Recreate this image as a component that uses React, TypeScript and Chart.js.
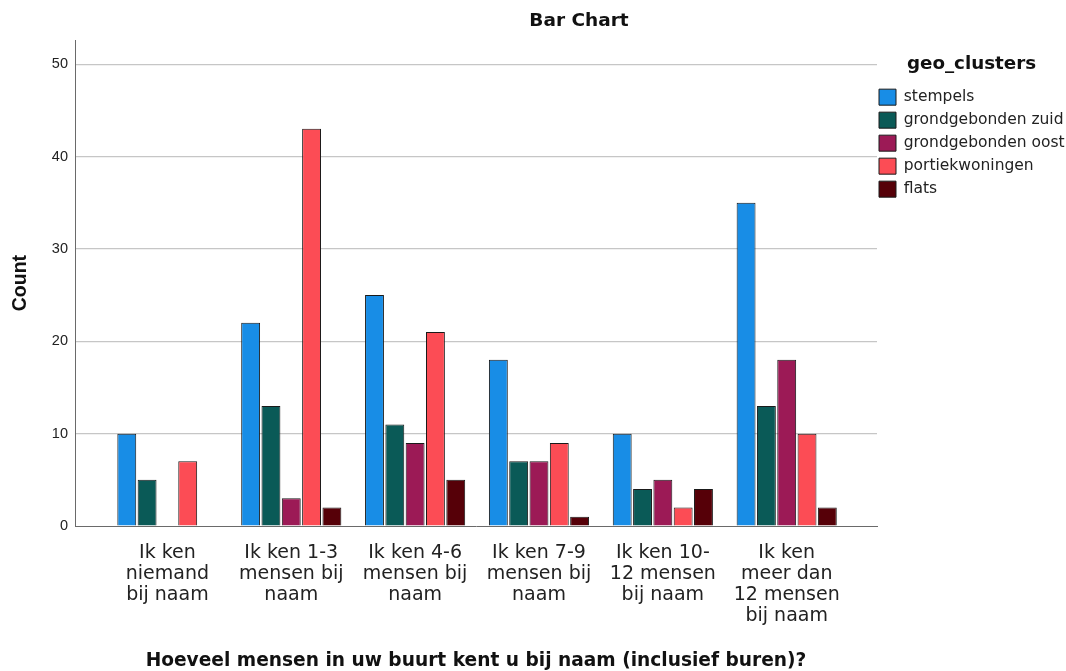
import React, { useEffect, useRef } from 'react';
import { Chart, registerables } from 'chart.js';

Chart.register(...registerables);

const categoryLabels: string[][] = [
  ['Ik ken', 'niemand', 'bij naam'],
  ['Ik ken 1-3', 'mensen bij', 'naam'],
  ['Ik ken 4-6', 'mensen bij', 'naam'],
  ['Ik ken 7-9', 'mensen bij', 'naam'],
  ['Ik ken 10-', '12 mensen', 'bij naam'],
  ['Ik ken', 'meer dan', '12 mensen', 'bij naam'],
];
const stempels = [10, 22, 25, 18, 10, 35];
const grondgebondenZuid = [5, 13, 11, 7, 4, 13];
const grondgebondenOost = [0, 3, 9, 7, 5, 18];
const portiekwoningen = [7, 43, 21, 9, 2, 10];
const flats = [0, 2, 5, 1, 4, 2];
const seriesNames = ['stempels', 'grondgebonden zuid', 'grondgebonden oost', 'portiekwoningen', 'flats'];
const seriesValues = [stempels, grondgebondenZuid, grondgebondenOost, portiekwoningen, flats];
const seriesColors = ['#188de6', '#0a5a57', '#9c1a56', '#fc4c55', '#560008'];
const yTicks = [0, 10, 20, 30, 40, 50];

const chartTitle = 'Bar Chart';
const xTitle = 'Hoeveel mensen in uw buurt kent u bij naam (inclusief buren)?';
const yTitle = 'Count';
const legendTitle = 'geo_clusters';

const nudgePlugin = {
  id: 'nudge',
  afterLayout(chart: any) {
    const t = chart.titleBlock;
    if (t) {
      t.left += 46;
      t.right += 46;
    }
    const l = chart.legend;
    if (l) {
      l.left -= 5;
      l.right = 1071;
      l.width = l.right - l.left;
    }
  },
};

export default function App() {
  const ref = useRef<HTMLCanvasElement | null>(null);

  useEffect(() => {
    if (!ref.current) return;
    const datasets = seriesNames.map((name, s) => ({
      label: name,
      data: seriesValues[s].map((v, i) => ({ x: i, y: v })),
      backgroundColor: seriesColors[s],
      borderColor: '#1a1a1a',
      borderWidth: 1,
      categoryPercentage: 0.82,
      barPercentage: 0.93,
    }));
    const chart = new Chart(ref.current, {
      type: 'bar',
      data: { datasets },
      plugins: [nudgePlugin],
      options: {
        animation: false,
        responsive: false,
        maintainAspectRatio: false,
        layout: { padding: 0 },
        plugins: {
          tooltip: { enabled: false },
          title: {
            display: true,
            text: chartTitle,
            color: '#111',
            font: { family: 'DejaVu Sans', size: 18.5, weight: 'bold', lineHeight: 1.2 },
            padding: { top: 10, bottom: 8 },
          },
          legend: {
            display: true,
            position: 'right',
            align: 'start',
            fullSize: false,
            maxWidth: 189,
            title: {
              display: true,
              text: legendTitle,
              position: 'center',
              color: '#111',
              font: { family: 'DejaVu Sans', size: 18.3, weight: 'bold', lineHeight: 1.2 },
              padding: { top: 15, bottom: 5 },
            },
            labels: {
              boxWidth: 17,
              boxHeight: 16,
              padding: 7,
              color: '#222',
              font: { family: 'DejaVu Sans', size: 15.5 },
            },
          },
        },
        scales: {
          x: {
            type: 'linear',
            offset: false,
            bounds: 'data',
            min: -0.746,
            max: 5.729,
            afterBuildTicks: (scale: any) => {
              scale.ticks = categoryLabels.map((_, i) => ({ value: i }));
            },
            afterFit: (scale: any) => {
              scale.height = 145;
            },
            grid: { display: false, drawTicks: false, offset: false },
            border: { display: true, color: '#6a6a6a', width: 1 },
            ticks: {
              autoSkip: false,
              maxRotation: 0,
              minRotation: 0,
              padding: 16,
              color: '#222',
              font: { family: 'DejaVu Sans', size: 19, lineHeight: 1.12 },
              callback: (value: any) => categoryLabels[Math.round(Number(value))] ?? '',
            },
            title: {
              display: true,
              text: xTitle,
              color: '#111',
              font: { family: 'DejaVu Sans', size: 18.6, weight: 'bold', lineHeight: 1.0 },
              padding: { top: 0, bottom: 1 },
            },
          },
          y: {
            type: 'linear',
            min: 0,
            max: 52.6,
            afterBuildTicks: (scale: any) => {
              scale.ticks = yTicks.map((v) => ({ value: v }));
            },
            afterFit: (scale: any) => {
              scale.width = 75;
            },
            grid: {
              drawTicks: false,
              color: (ctx: any) => (ctx.tick && ctx.tick.value === 0 ? 'rgba(0,0,0,0)' : '#c6c6c6'),
              lineWidth: 1.2,
            },
            border: { display: true, color: '#6a6a6a', width: 1 },
            ticks: {
              padding: 7,
              color: '#222',
              font: { family: 'Liberation Sans', size: 14.5 },
            },
            title: {
              display: true,
              text: yTitle,
              color: '#111',
              font: { family: 'Liberation Sans', size: 19.5, weight: 'bold', lineHeight: 1.2 },
              padding: { top: 9, bottom: 0 },
            },
          },
        },
      },
    } as any);
    return () => chart.destroy();
  }, []);

  return (
    <div style={{ position: 'absolute', left: 0, top: 0, width: 1066, height: 671, background: '#fff' }}>
      <canvas ref={ref} width={1066} height={671} style={{ display: 'block' }} />
    </div>
  );
}
